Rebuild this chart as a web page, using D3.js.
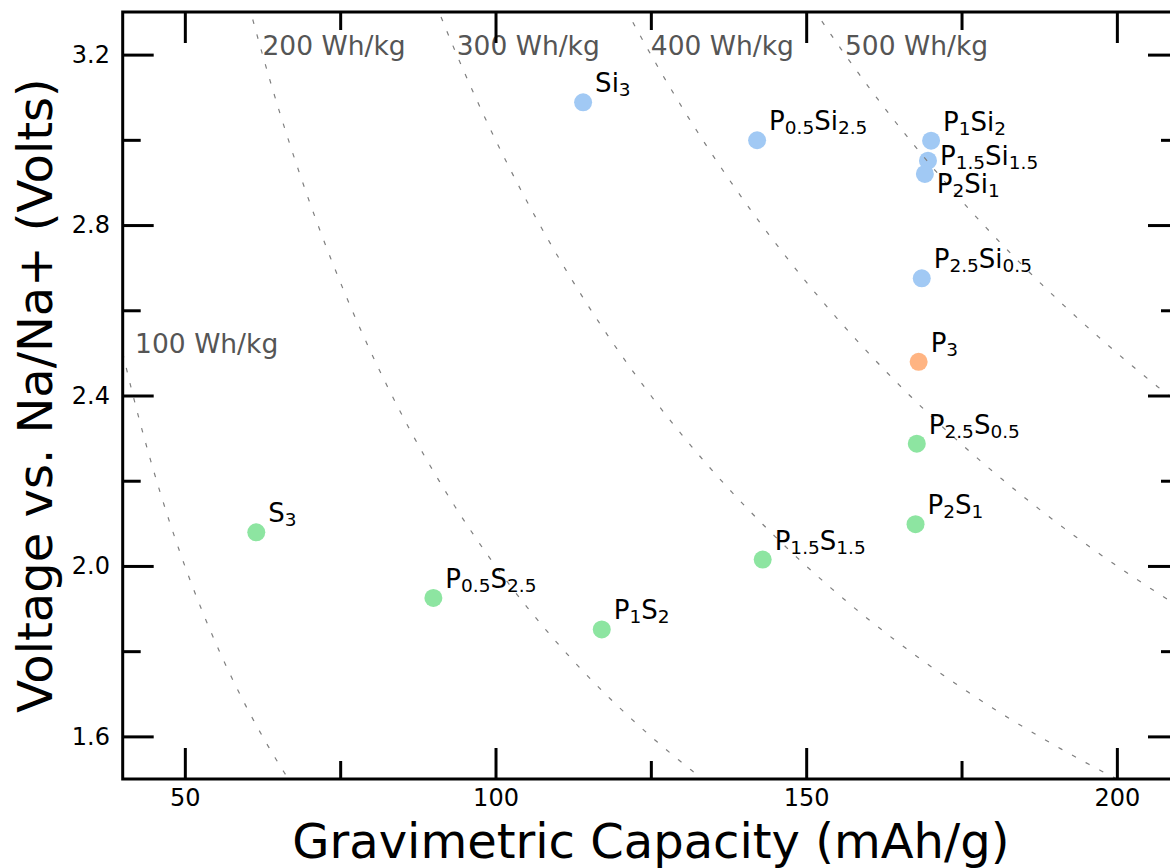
<!DOCTYPE html>
<html>
<head>
<meta charset="utf-8">
<script src="https://cdn.jsdelivr.net/npm/d3@7"></script>
<style>
  body { margin: 0; background: #fff; }
  svg { display: block; font-family: "DejaVu Sans", sans-serif; }
</style>
</head>
<body>
<svg id="chart" width="1170" height="868"></svg>
<script>
// ---- data ----
const names = ["Si3","P0.5Si2.5","P1Si2","P1.5Si1.5","P2Si1","P2.5Si0.5","P3",
               "P2.5S0.5","P2S1","P1.5S1.5","P1S2","P0.5S2.5","S3"];
// label parts: [main, sub]
const labelParts = [
  [["Si","3"]],
  [["P","0.5"],["Si","2.5"]],
  [["P","1"],["Si","2"]],
  [["P","1.5"],["Si","1.5"]],
  [["P","2"],["Si","1"]],
  [["P","2.5"],["Si","0.5"]],
  [["P","3"]],
  [["P","2.5"],["S","0.5"]],
  [["P","2"],["S","1"]],
  [["P","1.5"],["S","1.5"]],
  [["P","1"],["S","2"]],
  [["P","0.5"],["S","2.5"]],
  [["S","3"]]
];
const capacity = [114.1, 142.1, 170.1, 169.6, 169.1, 168.6, 168.1, 167.8, 167.6, 143.0, 117.1, 90.0, 61.5];
const voltage  = [3.088, 2.999, 2.998, 2.951, 2.920, 2.675, 2.479, 2.287, 2.098, 2.015, 1.851, 1.925, 2.079];
const group    = ["Si","Si","Si","Si","Si","Si","P","S","S","S","S","S","S"];
const energies = [100, 200, 300, 400, 500];        // Wh/kg iso-lines
const energyLabelPos = [[42, 2.5],[62.5,3.2],[93.75,3.2],[125,3.2],[156.25,3.2]]; // data coords
const xMajor = [50, 100, 150, 200];
const xMinor = [75, 125, 175];
const yMajor = [1.6, 2.0, 2.4, 2.8, 3.2];
const yMinor = [1.8, 2.2, 2.6, 3.0];

// ---- style / layout ----
const colors = {Si: "#a1c9f4", P: "#ffb482", S: "#8de5a1"};
const labelOffset = {"P1.5Si1.5": [12, 4], "P2Si1": [12, 19]};
const defaultOffset = [12, -10];
const mainSize = 26, subSize = 18.5, subShift = 4;

const margin = {left: 122.7, top: 12};
const W = 1179 - 122.7, H = 779 - 12;

const svg = d3.select("#chart");
const g = svg.append("g").attr("transform", `translate(${margin.left},${margin.top})`);

const x = d3.scaleLinear().domain([40, 210]).range([0, W]);
const y = d3.scaleLinear().domain([1.5, 3.3]).range([H, 0]);

svg.append("defs").append("clipPath").attr("id", "clip")
  .append("rect").attr("width", W).attr("height", H);

// points
const pts = names.map((n, i) => ({name: n, c: capacity[i], v: voltage[i], grp: group[i], parts: labelParts[i]}));
g.append("g").selectAll("circle").data(pts).join("circle")
  .attr("cx", d => x(d.c)).attr("cy", d => y(d.v)).attr("r", 9)
  .attr("fill", d => colors[d.grp]);

// iso-energy curves
const cGrid = d3.range(40, 210.01, 0.5);
const line = d3.line().x(d => x(d[0])).y(d => y(d[1]));
g.append("g").attr("clip-path", "url(#clip)").selectAll("path").data(energies).join("path")
  .attr("d", e => line(cGrid.map(c => [c, e / c])))
  .attr("fill", "none").attr("stroke", "#7f7f7f").attr("stroke-width", 1.2)
  .attr("stroke-dasharray", "4.5,11");

// energy labels
g.append("g").selectAll("text").data(energies).join("text")
  .attr("x", (e, i) => x(energyLabelPos[i][0]))
  .attr("y", (e, i) => y(energyLabelPos[i][1]))
  .attr("font-size", 26.5).attr("fill", "#555555")
  .text(e => `${e} Wh/kg`);

// point labels
const lab = g.append("g").selectAll("text").data(pts).join("text")
  .attr("x", d => x(d.c) + (labelOffset[d.name] || defaultOffset)[0])
  .attr("y", d => y(d.v) + (labelOffset[d.name] || defaultOffset)[1])
  .attr("font-size", mainSize).attr("fill", "#000");
lab.each(function(d) {
  const t = d3.select(this);
  d.parts.forEach(([m, s], k) => {
    t.append("tspan").attr("font-size", mainSize).attr("dy", k === 0 ? 0 : -subShift).text(m);
    t.append("tspan").attr("font-size", subSize).attr("dy", subShift).text(s);
  });
});

// axes
function styleAxis(sel) {
  sel.select(".domain").remove();
  sel.selectAll(".tick line").attr("stroke", "#000").attr("stroke-width", 3);
  sel.selectAll(".tick text").attr("font-size", 24).attr("fill", "#000").attr("font-family", "DejaVu Sans");
}
const fmtX = d3.format("d"), fmtY = d3.format(".1f");
g.append("g").attr("transform", `translate(0,${H})`)
  .call(d3.axisBottom(x).tickValues(xMajor).tickFormat(fmtX).tickSize(-31).tickPadding(10)).call(styleAxis);
g.append("g").attr("transform", `translate(0,${H})`)
  .call(d3.axisBottom(x).tickValues(xMinor).tickFormat("").tickSize(-18)).call(styleAxis);
g.append("g")
  .call(d3.axisTop(x).tickValues(xMajor).tickFormat("").tickSize(-31)).call(styleAxis);
g.append("g")
  .call(d3.axisTop(x).tickValues(xMinor).tickFormat("").tickSize(-18)).call(styleAxis);
g.append("g")
  .call(d3.axisLeft(y).tickValues(yMajor).tickFormat(fmtY).tickSize(-31).tickPadding(12.7)).call(styleAxis);
g.append("g")
  .call(d3.axisLeft(y).tickValues(yMinor).tickFormat("").tickSize(-18)).call(styleAxis);
g.append("g").attr("transform", `translate(${W},0)`)
  .call(d3.axisRight(y).tickValues(yMajor).tickFormat("").tickSize(-31)).call(styleAxis);
g.append("g").attr("transform", `translate(${W},0)`)
  .call(d3.axisRight(y).tickValues(yMinor).tickFormat("").tickSize(-18)).call(styleAxis);

// remove empty tick texts of unlabeled axes
svg.selectAll(".tick text").filter(function() { return this.textContent === ""; }).remove();

// frame
g.append("rect").attr("width", W).attr("height", H)
  .attr("fill", "none").attr("stroke", "#000").attr("stroke-width", 3);

// axis titles
svg.append("text").attr("x", margin.left + W / 2).attr("y", 858)
  .attr("text-anchor", "middle").attr("font-size", 48).attr("fill", "#000")
  .text("Gravimetric Capacity (mAh/g)");
svg.append("text").attr("transform", `translate(52,${margin.top + H / 2}) rotate(-90)`)
  .attr("text-anchor", "middle").attr("font-size", 48).attr("fill", "#000")
  .text("Voltage vs. Na/Na+ (Volts)");
</script>
</body>
</html>
